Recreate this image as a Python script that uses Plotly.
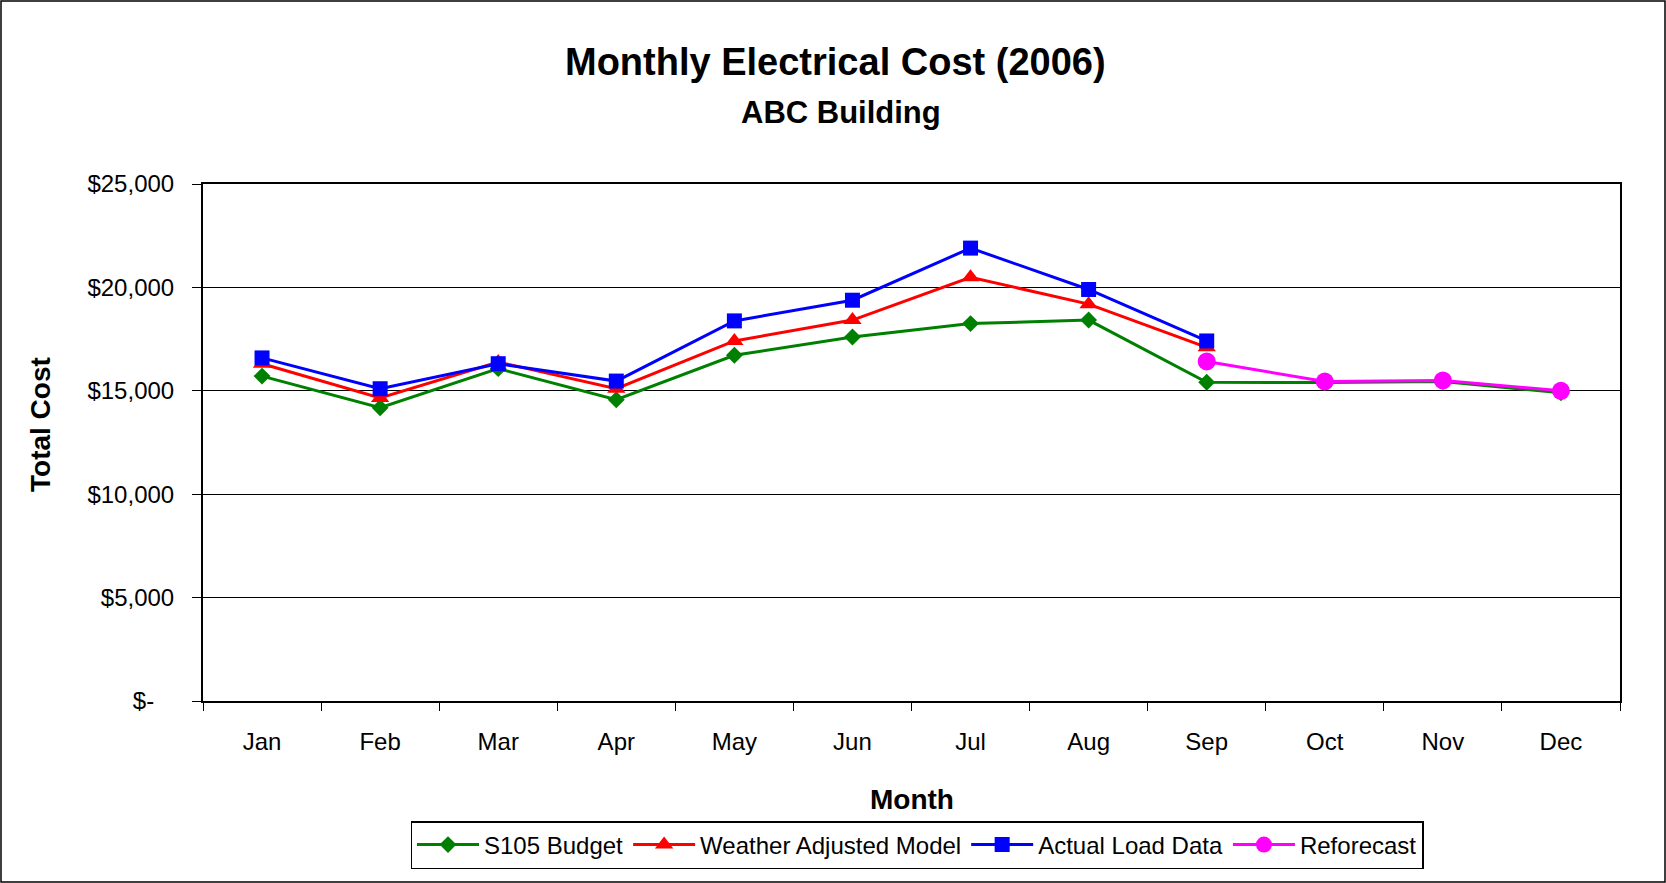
import plotly.graph_objects as go

months = ["Jan", "Feb", "Mar", "Apr", "May", "Jun", "Jul", "Aug", "Sep", "Oct", "Nov", "Dec"]
budget = [15710, 14180, 16070, 14570, 16720, 17600, 18250, 18420, 15410, 15400, 15450, 14900]
weather = [16310, 14650, 16390, 15100, 17410, 18420, 20490, 19190, 17100, None, None, None]
actual = [16590, 15100, 16310, 15470, 18380, 19380, 21900, 19900, 17410, None, None, None]
reforecast = [None, None, None, None, None, None, None, None, 16420, 15450, 15500, 15000]

y_ticks = [0, 5000, 10000, 15000, 20000, 25000]
y_ticktext = ["$-\u00a0\u00a0\u00a0", "$5,000", "$10,000", "$15,000", "$20,000", "$25,000"]

FONT = "Liberation Sans"

fig = go.Figure()
series = [
    ("S105 Budget", budget, "#008000", "diamond", 13),
    ("Weather Adjusted Model", weather, "#FF0000", "triangle-up", 16),
    ("Actual Load Data", actual, "#0000FF", "square", 15),
    ("Reforecast", reforecast, "#FF00FF", "circle", 18),
]
for name, vals, color, sym, size in series:
    fig.add_trace(go.Scatter(
        x=months, y=vals, name=name, mode="lines+markers",
        line=dict(color=color, width=3),
        marker=dict(symbol=sym, size=size, color=color, line=dict(width=0)),
        connectgaps=False,
    ))

L, R, T, B = 203, 1620, 184, 701
W, H = 1666, 883
pw, ph = R - L, B - T

def px(x):
    return (x - L) / pw

def py(y):
    return (B - y) / ph

fig.update_layout(
    width=W, height=H,
    margin=dict(l=L, r=W - R, t=T, b=H - B, pad=0),
    paper_bgcolor="white", plot_bgcolor="white",
    font=dict(family=FONT, size=24, color="black"),
    showlegend=True,
    legend=dict(
        orientation="h", x=px(917), xanchor="center", y=py(821), yanchor="top",
        bordercolor="black", borderwidth=1.5, font=dict(size=24, family=FONT),
        tracegroupgap=0, itemwidth=62,
    ),
    xaxis=dict(
        type="category", range=[-0.5, len(months) - 0.5], tickson="boundaries",
        showline=True, linecolor="black", linewidth=1.5,
        mirror=True, ticks="outside", ticklen=8, tickcolor="black", showgrid=False,
        tickfont=dict(size=24), ticklabelstandoff=18,
    ),
    yaxis=dict(
        range=[0, 25000], tickvals=y_ticks, ticktext=y_ticktext, showline=True,
        linecolor="black", linewidth=2, mirror=True, ticks="outside", ticklen=9,
        tickcolor="black", showgrid=True, gridcolor="black", gridwidth=1,
        zeroline=False, tickfont=dict(size=24), ticklabelstandoff=13,
    ),
    annotations=[
        dict(text="<b>Monthly Electrical Cost (2006)</b>", x=px(835), y=py(62),
             xref="paper", yref="paper", showarrow=False, font=dict(size=38, family=FONT),
             xanchor="center", yanchor="middle"),
        dict(text="<b>ABC Building</b>", x=px(841), y=py(112),
             xref="paper", yref="paper", showarrow=False, font=dict(size=31, family=FONT),
             xanchor="center", yanchor="middle"),
        dict(text="<b>Month</b>", x=px(912), y=py(799),
             xref="paper", yref="paper", showarrow=False, font=dict(size=28, family=FONT),
             xanchor="center", yanchor="middle"),
        dict(text="<b>Total Cost</b>", x=px(40), y=py(425), textangle=-90,
             xref="paper", yref="paper", showarrow=False, font=dict(size=28, family=FONT),
             xanchor="center", yanchor="middle"),
    ],
    shapes=[
        dict(type="rect", xref="paper", yref="paper", x0=px(1), x1=px(1665), y0=py(882), y1=py(1),
             line=dict(color="black", width=1.5), fillcolor="rgba(0,0,0,0)", layer="below"),
    ],
)

fig.write_html("out.html", config={"displayModeBar": False},
               post_script="document.body.style.margin='0px';document.body.style.overflow='hidden';")
